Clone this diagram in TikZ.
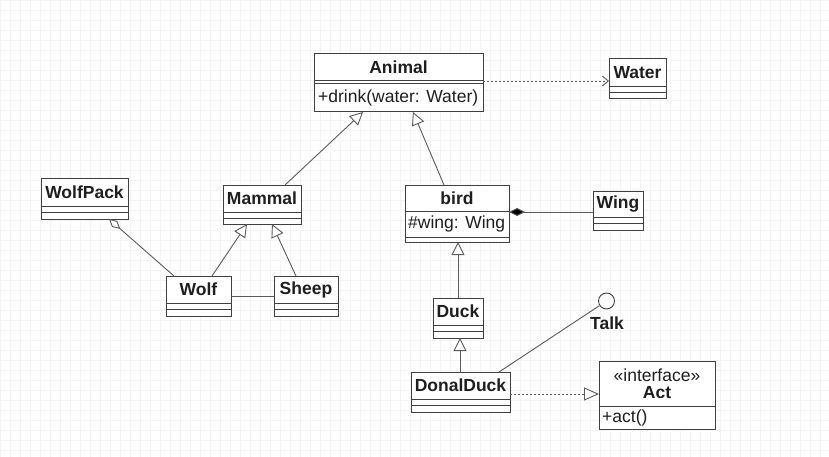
\documentclass[tikz,border=0pt]{standalone}
\usepackage{fontspec}
\setmainfont{Liberation Sans}
\usetikzlibrary{arrows.meta,calc}
\definecolor{boxc}{HTML}{404040}
\definecolor{linec}{HTML}{5A5A5A}
\definecolor{txtc}{HTML}{1E1E1E}
\definecolor{gridc}{HTML}{F4F4F7}
\newcommand\umlcls[7]{%
  \node[cls, minimum width=#4, minimum height=#5] (#1) at (#2,#3) {};
  \draw[boxline] ($(#1.north west)+(0,#6)$) -- ($(#1.north east)+(0,#6)$);
  \draw[boxline] ($(#1.north west)+(0,#7)$) -- ($(#1.north east)+(0,#7)$);
}
\begin{document}
\begin{tikzpicture}[x=1pt,y=-1pt,
  cls/.style={draw=boxc, line width=1pt, fill=white, inner sep=0pt, outer sep=0pt, anchor=north west},
  boxline/.style={draw=boxc, line width=0.9pt},
  nm/.style={font=\fontsize{17.5}{20}\selectfont\bfseries, text=txtc, inner sep=0pt},
  tx/.style={font=\fontsize{17.5}{20}\selectfont, text=txtc, inner sep=0pt},
  conn/.style={draw=linec, line width=0.9pt},
  inh/.style={conn, -{Triangle[length=13pt, width=13pt, fill=white]}},
  dep/.style={conn, dash pattern=on 2pt off 2pt, -{Straight Barb[length=6pt, width=10pt]}},
  real/.style={conn, dash pattern=on 2pt off 2pt, -{Triangle[length=15pt, width=13pt, fill=white]}},
  agg/.style={conn, {Diamond[length=15pt, width=8pt, fill=white]}-},
  comp/.style={conn, -{Diamond[length=16pt, width=8pt, fill=black]}},
]
\useasboundingbox (0,0) rectangle (829,457);
\fill[white] (0,0) rectangle (829,457);
\foreach \i in {0,10,...,820} \draw[gridc, line width=0.6pt] (\i,0) -- (\i,457);
\foreach \j in {0,10,...,450} \draw[gridc, line width=0.6pt] (0,\j) -- (829,\j);

% classes
\umlcls{animal}{314}{54}{169}{58}{26}{29}
\node[nm] (animalT) at (398.5,67) {Animal};
\node[tx, anchor=west] (animalM) at (318,98) {+drink(water: Water)};

\umlcls{water}{609}{59}{57}{40}{27}{33}
\node[nm] (waterT) at (637.5,73) {Water};

\umlcls{bird}{405}{185}{104}{57}{26}{52}
\node[nm] (birdT) at (457,198.5) {bird};
\node[tx, anchor=west] (birdA) at (408,224) {\#wing: Wing};

\umlcls{wing}{593}{191}{50}{39}{26}{32}
\node[nm] (wingT) at (618,204.5) {Wing};

\umlcls{wolfpack}{41}{179}{87}{40}{27}{33}
\node[nm] (wolfpackT) at (84.5,192.5) {WolfPack};

\umlcls{mammal}{223}{185}{78}{39}{27}{33}
\node[nm] (mammalT) at (262,198.5) {Mammal};

\umlcls{wolf}{166}{276}{65}{40}{27}{33}
\node[nm] (wolfT) at (198.5,289.5) {Wolf};

\umlcls{sheep}{274}{276}{64}{40}{27}{33}
\node[nm] (sheepT) at (306,289.5) {Sheep};

\umlcls{duck}{433}{298}{50}{40}{27}{33}
\node[nm] (duckT) at (458,311.5) {Duck};

\umlcls{donal}{411}{372}{99}{40}{27}{33}
\node[nm] (donalT) at (460.5,385.5) {DonalDuck};

\node[cls, minimum width=116, minimum height=68] (act) at (599,361) {};
\draw[boxline] ($(act.north west)+(0,45)$) -- ($(act.north east)+(0,45)$);
\node[tx] (actS) at (657,375) {«interface»};
\node[nm] (actT) at (657,393) {Act};
\node[tx, anchor=west] (actM) at (602,418) {+act()};

\node[draw=boxc, line width=0.9pt, fill=white, circle, minimum size=16pt, inner sep=0pt] (talk) at (606.5,301) {};
\node[nm] (talkT) at (607,323) {Talk};

% connectors
\draw[dep] ($(animal.north east)+(0,27)$) -- ($(water.north west)+(0,22)$);
\draw[inh] ($(mammal.north west)+(62,0)$) -- ($(animal.south west)+(49,0)$);
\draw[inh] ($(bird.north west)+(39,0)$) -- ($(animal.south west)+(99,0)$);
\draw[inh] ($(wolf.north west)+(46,0)$) -- ($(mammal.south west)+(24,0)$);
\draw[inh] ($(sheep.north west)+(22,0)$) -- ($(mammal.south west)+(49,0)$);
\draw[conn] ($(wolf.north east)+(0,20)$) -- ($(sheep.north west)+(0,20)$);
\draw[agg] ($(wolfpack.south west)+(68,0)$) -- ($(wolf.north west)+(8,0)$);
\draw[comp] ($(wing.north west)+(0,21)$) -- ($(bird.north east)+(0,27)$);
\draw[inh] ($(duck.north west)+(25,0)$) -- ($(bird.south west)+(53,0)$);
\draw[inh] ($(donal.north west)+(49,0)$) -- ($(duck.south west)+(27,0)$);
\draw[conn] ($(donal.north west)+(88,0)$) -- (talk);
\draw[real] ($(donal.north east)+(0,22)$) -- ($(act.north west)+(0,33)$);
\end{tikzpicture}
\end{document}
